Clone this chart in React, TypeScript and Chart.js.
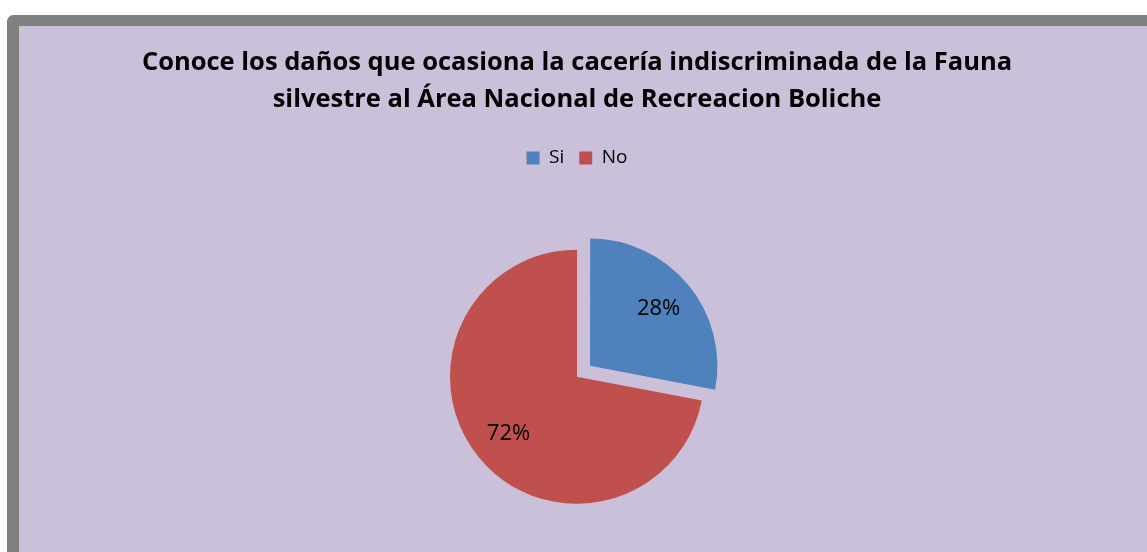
import React, { useEffect, useRef } from "react";
import { Chart, registerables } from "chart.js";

Chart.register(...registerables);

const categories = ["Si", "No"];
const values = [28, 72];
const sliceColors = ["#4F81BD", "#C0504D"];
const sliceOffsets = [68, 0];
const titleLines = [
  "Conoce los daños que ocasiona la cacería indiscriminada de la Fauna",
  "silvestre al Área Nacional de Recreacion Boliche",
];

const FONT = "'Open Sans', Lato, sans-serif";

const sliceLabelPlugin = {
  id: "sliceLabels",
  afterDatasetsDraw(chart: any) {
    const ctx = chart.ctx;
    const meta = chart.getDatasetMeta(0);
    const data = chart.data.datasets[0].data as number[];
    const total = data.reduce((a, b) => a + b, 0);
    ctx.save();
    ctx.font = `22px ${FONT}`;
    ctx.fillStyle = "#000000";
    ctx.textAlign = "center";
    ctx.textBaseline = "middle";
    meta.data.forEach((arc: any, i: number) => {
      const { x, y, startAngle, endAngle, outerRadius } = arc.getProps(
        ["x", "y", "startAngle", "endAngle", "outerRadius"],
        true
      );
      const mid = (startAngle + endAngle) / 2;
      const off = (arc.options.offset || 0) / 4;
      const r = off + outerRadius * 0.7;
      const pct = Math.round((data[i] / total) * 100) + "%";
      ctx.fillText(pct, x + Math.cos(mid) * r, y + Math.sin(mid) * r);
    });
    ctx.restore();
  },
};

export default function App() {
  const canvasRef = useRef<HTMLCanvasElement | null>(null);

  useEffect(() => {
    document.body.style.margin = "0";
    const canvas = canvasRef.current;
    if (!canvas) return;
    const chart = new Chart(canvas, {
      type: "pie",
      data: {
        labels: categories,
        datasets: [
          {
            data: values,
            backgroundColor: sliceColors,
            borderWidth: 0,
            offset: sliceOffsets,
          },
        ],
      },
      options: {
        responsive: false,
        animation: false,
        devicePixelRatio: 1,
        radius: 127,
        layout: { padding: { left: 0, right: 12, top: 0, bottom: 150 } },
        plugins: {
          title: {
            display: true,
            text: titleLines,
            color: "#000000",
            font: { family: FONT, size: 25.5, weight: "bold", lineHeight: 1.42 },
            padding: { top: 19, bottom: 16 },
          },
          legend: {
            display: true,
            position: "top",
            labels: {
              boxWidth: 13,
              boxHeight: 13,
              color: "#000000",
              padding: 15,
              font: { family: FONT, size: 19 },
            },
          },
          tooltip: { enabled: false },
        },
      },
      plugins: [sliceLabelPlugin],
    });
    return () => chart.destroy();
  }, []);

  return (
    <div
      style={{
        position: "absolute",
        left: 0,
        top: 0,
        width: 1147,
        height: 552,
        background: "#FFFFFF",
        overflow: "hidden",
      }}
    >
      <div
        style={{
          position: "absolute",
          left: 7,
          top: 15,
          width: 1140,
          height: 600,
          boxSizing: "border-box",
          borderTop: "11px solid #808080",
          borderLeft: "12px solid #808080",
          borderTopLeftRadius: 7,
          background: "#CBC0DA",
          overflow: "hidden",
        }}
      >
        <canvas
          ref={canvasRef}
          width={1128}
          height={700}
          style={{ position: "absolute", left: 0, top: 0, width: 1128, height: 700 }}
        />
      </div>
    </div>
  );
}
